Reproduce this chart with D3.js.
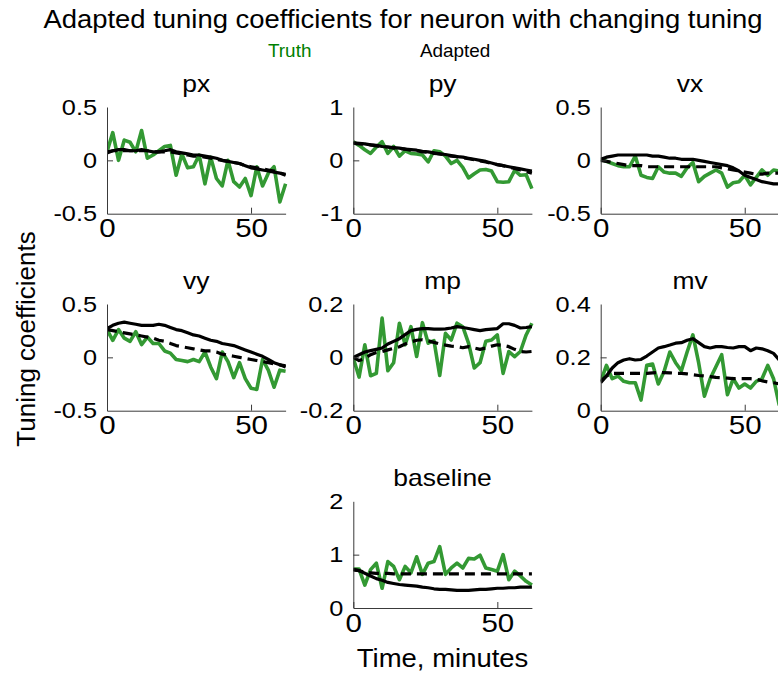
<!DOCTYPE html>
<html>
<head>
<meta charset="utf-8">
<script src="https://cdn.jsdelivr.net/npm/d3@7/dist/d3.min.js"></script>
<style>
  html, body { margin: 0; padding: 0; background: #fff; }
  svg { display: block; font-family: "Liberation Sans", Arial, Helvetica, sans-serif; }
</style>
</head>
<body>
<svg id="chart" width="778" height="674"></svg>
<script>
// Sample times (minutes)
const time = [0, 2, 4, 6, 8, 10, 12, 14, 16, 18, 20, 22, 24, 26, 28, 30,
              32, 34, 36, 38, 40, 42, 44, 46, 48, 50, 52, 54, 56, 58, 60, 62];

const xTicks = [0, 50];

// px
const pxTruth = [0.08, 0.26, 0.0, 0.19, 0.17, 0.08, 0.28, 0.02, 0.05, 0.09, 0.13, 0.14, -0.14, 0.06, -0.07, -0.06,
                 0.05, -0.22, 0.03, -0.17, -0.24, 0.0, -0.2, -0.25, -0.17, -0.33, -0.06, -0.24, -0.12, -0.06, -0.39, -0.22];
const pxAdapted = [0.07, 0.09, 0.1, 0.1, 0.09, 0.09, 0.1, 0.09, 0.08, 0.08, 0.09, 0.1, 0.08, 0.07, 0.06, 0.05,
                   0.05, 0.04, 0.03, 0.02, 0.0, -0.01, -0.02, -0.03, -0.05, -0.07, -0.08, -0.09, -0.1, -0.11, -0.12, -0.13];
const pxAdaptedAlt = [0.08, 0.09, 0.09, 0.09, 0.09, 0.09, 0.09, 0.09, 0.08, 0.08, 0.08, 0.08, 0.07, 0.06, 0.05, 0.04,
                      0.04, 0.03, 0.02, 0.01, 0.0, -0.01, -0.02, -0.03, -0.05, -0.06, -0.07, -0.08, -0.09, -0.1, -0.12, -0.14];
const pxTicks = [-0.5, 0, 0.5];

// py
const pyTruth = [0.35, 0.28, 0.2, 0.13, 0.25, 0.35, 0.13, 0.26, 0.08, 0.18, 0.13, 0.12, 0.1, -0.03, 0.18, 0.16,
                 0.08, -0.06, 0.0, -0.13, -0.33, -0.25, -0.18, -0.17, -0.2, -0.4, -0.41, -0.4, -0.19, -0.28, -0.27, -0.53];
const pyAdapted = [0.33, 0.32, 0.31, 0.29, 0.28, 0.26, 0.25, 0.24, 0.23, 0.21, 0.2, 0.19, 0.17, 0.16, 0.14, 0.12,
                   0.11, 0.09, 0.07, 0.06, 0.04, 0.02, 0.0, -0.02, -0.05, -0.08, -0.1, -0.12, -0.14, -0.16, -0.18, -0.2];
const pyAdaptedAlt = [0.32, 0.31, 0.3, 0.29, 0.27, 0.26, 0.25, 0.23, 0.22, 0.21, 0.19, 0.18, 0.16, 0.15, 0.13, 0.12,
                      0.1, 0.08, 0.07, 0.05, 0.03, 0.01, -0.01, -0.03, -0.06, -0.08, -0.1, -0.13, -0.15, -0.18, -0.21, -0.24];
const pyTicks = [-1, 0, 1];

// vx
const vxTruth = [0.01, -0.01, -0.03, -0.05, -0.06, -0.06, 0.04, -0.14, -0.16, -0.17, -0.06, -0.11, -0.12, -0.12, -0.15, -0.07,
                 -0.02, -0.2, -0.15, -0.12, -0.09, -0.12, -0.25, -0.21, -0.2, -0.14, -0.23, -0.16, -0.09, -0.14, -0.09, -0.1];
const vxAdapted = [0.01, 0.03, 0.04, 0.05, 0.05, 0.05, 0.05, 0.05, 0.05, 0.04, 0.04, 0.03, 0.02, 0.02, 0.01, 0.01,
                   0.01, 0.0, -0.01, -0.02, -0.03, -0.04, -0.05, -0.07, -0.1, -0.14, -0.16, -0.18, -0.2, -0.21, -0.22, -0.22];
const vxAdaptedAlt = [0.0, -0.01, -0.02, -0.03, -0.04, -0.05, -0.05, -0.05, -0.06, -0.06, -0.06, -0.06, -0.06, -0.06, -0.06, -0.06,
                      -0.06, -0.06, -0.06, -0.06, -0.06, -0.07, -0.08, -0.09, -0.1, -0.11, -0.12, -0.13, -0.13, -0.12, -0.12, -0.12];
const vxTicks = [-0.5, 0, 0.5];

// vy
const vyTruth = [0.26, 0.16, 0.26, 0.18, 0.15, 0.24, 0.12, 0.19, 0.13, 0.13, 0.06, 0.04, -0.02, -0.03, -0.04, -0.02,
                 -0.04, 0.05, -0.09, -0.2, 0.05, -0.04, -0.19, -0.05, -0.2, -0.29, -0.3, -0.02, -0.12, -0.28, -0.12, -0.13];
const vyAdapted = [0.27, 0.3, 0.32, 0.33, 0.32, 0.31, 0.3, 0.3, 0.3, 0.31, 0.3, 0.28, 0.26, 0.25, 0.23, 0.21,
                   0.2, 0.18, 0.16, 0.15, 0.13, 0.12, 0.11, 0.09, 0.07, 0.05, 0.03, 0.01, -0.02, -0.05, -0.07, -0.09];
const vyAdaptedAlt = [0.26, 0.25, 0.24, 0.23, 0.22, 0.21, 0.2, 0.19, 0.18, 0.16, 0.15, 0.13, 0.11, 0.1, 0.09, 0.08,
                      0.07, 0.06, 0.06, 0.05, 0.03, 0.02, 0.01, 0.0, -0.01, -0.02, -0.03, -0.04, -0.05, -0.06, -0.07, -0.08];
const vyTicks = [-0.5, 0, 0.5];

// mp
const mpTruth = [-0.003, -0.074, 0.047, -0.069, -0.06, 0.147, -0.05, -0.02, 0.128, 0.047, 0.115, 0.003, 0.13, 0.053, 0.063, -0.068,
                 0.09, 0.065, 0.128, 0.115, 0.053, -0.04, -0.02, 0.06, 0.065, 0.084, -0.06, 0.022, 0.003, 0.022, 0.084, 0.128];
const mpAdapted = [0.0, 0.01, 0.02, 0.025, 0.03, 0.035, 0.05, 0.06, 0.07, 0.085, 0.1, 0.105, 0.108, 0.108, 0.106, 0.106,
                   0.107, 0.11, 0.115, 0.112, 0.108, 0.104, 0.1, 0.104, 0.106, 0.108, 0.126, 0.126, 0.12, 0.11, 0.112, 0.115];
const mpAdaptedAlt = [0.0, -0.012, -0.005, 0.01, 0.018, 0.022, 0.028, 0.034, 0.04, 0.05, 0.058, 0.064, 0.066, 0.062, 0.056, 0.05,
                      0.046, 0.042, 0.04, 0.036, 0.04, 0.035, 0.03, 0.035, 0.042, 0.047, 0.045, 0.04, 0.03, 0.022, 0.02, 0.022];
const mpTicks = [-0.2, 0, 0.2];

// mv
const mvTruth = [0.11, 0.17, 0.12, 0.13, 0.11, 0.105, 0.105, 0.04, 0.17, 0.175, 0.1, 0.147, 0.22, 0.18, 0.15, 0.22,
                 0.284, 0.18, 0.054, 0.12, 0.165, 0.21, 0.06, 0.12, 0.085, 0.1, 0.085, 0.11, 0.12, 0.17, 0.12, 0.02];
const mvAdapted = [0.105, 0.13, 0.16, 0.18, 0.19, 0.195, 0.19, 0.192, 0.205, 0.22, 0.235, 0.24, 0.246, 0.253, 0.255, 0.264,
                   0.27, 0.255, 0.24, 0.235, 0.24, 0.24, 0.237, 0.235, 0.24, 0.24, 0.225, 0.235, 0.232, 0.225, 0.215, 0.19];
const mvAdaptedAlt = [0.11, 0.13, 0.14, 0.14, 0.14, 0.14, 0.14, 0.14, 0.14, 0.142, 0.143, 0.143, 0.142, 0.14, 0.14, 0.138,
                      0.135, 0.132, 0.13, 0.128, 0.125, 0.124, 0.122, 0.12, 0.12, 0.12, 0.12, 0.118, 0.112, 0.108, 0.105, 0.1];
const mvTicks = [0, 0.2, 0.4];

// baseline
const baseTruth = [0.73, 0.73, 0.43, 0.72, 0.84, 0.37, 0.87, 0.78, 0.53, 0.78, 0.66, 0.96, 0.63, 0.84, 0.87, 1.15,
                   0.63, 0.75, 0.84, 0.75, 0.93, 0.92, 0.99, 0.75, 0.72, 0.69, 1.0, 0.53, 0.69, 0.6, 0.5, 0.43];
const baseAdapted = [0.72, 0.7, 0.65, 0.6, 0.55, 0.52, 0.48, 0.46, 0.44, 0.43, 0.42, 0.41, 0.39, 0.38, 0.36, 0.35,
                     0.35, 0.34, 0.33, 0.33, 0.33, 0.34, 0.35, 0.35, 0.36, 0.37, 0.37, 0.38, 0.38, 0.39, 0.39, 0.39];
const baseAdaptedAlt = [0.72, 0.7, 0.67, 0.66, 0.65, 0.65, 0.65, 0.64, 0.64, 0.64, 0.64, 0.64, 0.64, 0.64, 0.64, 0.64,
                        0.64, 0.64, 0.64, 0.64, 0.64, 0.64, 0.64, 0.64, 0.64, 0.64, 0.64, 0.64, 0.64, 0.64, 0.64, 0.64];
const baseTicks = [0, 1, 2];

const panels = [
  { name: "px",       row: 0, col: 0, ticks: pxTicks,   truth: pxTruth,   adapted: pxAdapted,   alt: pxAdaptedAlt },
  { name: "py",       row: 0, col: 1, ticks: pyTicks,   truth: pyTruth,   adapted: pyAdapted,   alt: pyAdaptedAlt },
  { name: "vx",       row: 0, col: 2, ticks: vxTicks,   truth: vxTruth,   adapted: vxAdapted,   alt: vxAdaptedAlt },
  { name: "vy",       row: 1, col: 0, ticks: vyTicks,   truth: vyTruth,   adapted: vyAdapted,   alt: vyAdaptedAlt },
  { name: "mp",       row: 1, col: 1, ticks: mpTicks,   truth: mpTruth,   adapted: mpAdapted,   alt: mpAdaptedAlt },
  { name: "mv",       row: 1, col: 2, ticks: mvTicks,   truth: mvTruth,   adapted: mvAdapted,   alt: mvAdaptedAlt },
  { name: "baseline", row: 2, col: 1, ticks: baseTicks, truth: baseTruth, adapted: baseAdapted, alt: baseAdaptedAlt }
];

// Layout
const colX = [107, 353.3, 600.7];
const rowY = [107, 304, 501.3];
const plotW = 178.6, plotH = 106.7;
const truthColor = "#339933";
const axisColor = "#3a3a3a";

// Widen a text element horizontally about its own anchor point.
function widen(sel, sx) {
  sel.each(function () {
    const t = d3.select(this);
    const ax = +t.attr("x") || 0;
    const ay = +t.attr("y") || 0;
    t.attr("transform", `translate(${ax},${ay}) scale(${sx},1) translate(${-ax},${-ay})`);
  });
}

const svg = d3.select("#chart");

svg.append("text")
  .attr("x", 403).attr("y", 28)
  .attr("text-anchor", "middle")
  .attr("font-size", 26)
  .attr("fill", "#000")
  .text("Adapted tuning coefficients for neuron with changing tuning")
  .call(widen, 1.055);

svg.append("text")
  .attr("x", 268).attr("y", 57)
  .attr("font-size", 17.5)
  .attr("fill", "#008000")
  .text("Truth")
  .call(widen, 1.08);
svg.append("text")
  .attr("x", 420).attr("y", 57)
  .attr("font-size", 17.5)
  .attr("fill", "#000")
  .text("Adapted")
  .call(widen, 1.08);

svg.append("text")
  .attr("transform", "translate(35,339) rotate(-90)")
  .attr("text-anchor", "middle")
  .attr("font-size", 26)
  .attr("fill", "#000")
  .text("Tuning coefficients");

panels.forEach(p => {
  const x0 = colX[p.col], y0 = rowY[p.row];
  const g = svg.append("g").attr("transform", `translate(${x0},${y0})`);

  const x = d3.scaleLinear().domain([0, 62]).range([0, plotW]);
  const yDom = d3.extent(p.ticks);
  const y = d3.scaleLinear().domain(yDom).range([plotH, 0]);

  const clipId = "clip-" + p.name;
  g.append("clipPath").attr("id", clipId)
    .append("rect").attr("x", 0).attr("y", -2).attr("width", plotW + 2).attr("height", plotH + 4);

  const line = vals => d3.line()
    .x((d, i) => x(time[i]))
    .y(d => y(d))(vals);

  const lines = g.append("g").attr("clip-path", `url(#${clipId})`)
    .attr("fill", "none").attr("stroke-linejoin", "round");

  lines.append("path").attr("d", line(p.truth))
    .attr("stroke", truthColor).attr("stroke-width", 3.6);
  lines.append("path").attr("d", line(p.adapted))
    .attr("stroke", "#000").attr("stroke-width", 3.2);
  lines.append("path").attr("d", line(p.alt))
    .attr("stroke", "#000").attr("stroke-width", 3.2)
    .attr("stroke-dasharray", "10,6");

  // y axis
  const ya = g.append("g").call(
    d3.axisLeft(y).tickValues(p.ticks).tickFormat(d => String(d))
      .tickSizeInner(-6).tickSizeOuter(0).tickPadding(10)
  );
  ya.select(".domain").attr("stroke", axisColor);
  ya.selectAll(".tick line").attr("stroke", axisColor)
    .filter(d => d === yDom[0] || d === yDom[1]).remove();
  ya.selectAll(".tick text")
    .attr("font-size", 22).attr("fill", "#000")
    .attr("font-family", "Liberation Sans, Arial, sans-serif")
    .call(widen, 1.15);

  // x axis
  const xa = g.append("g").attr("transform", `translate(0,${plotH})`).call(
    d3.axisBottom(x).tickValues(xTicks).tickFormat(d => String(d))
      .tickSizeInner(-6).tickSizeOuter(0).tickPadding(6)
  );
  xa.select(".domain").attr("stroke", axisColor);
  xa.selectAll(".tick line").attr("stroke", axisColor);
  xa.selectAll(".tick text")
    .attr("font-size", 25).attr("fill", "#000")
    .attr("font-family", "Liberation Sans, Arial, sans-serif")
    .call(widen, 1.18);

  g.append("text")
    .attr("x", plotW / 2).attr("y", -15)
    .attr("text-anchor", "middle")
    .attr("font-size", 23)
    .attr("fill", "#000")
    .text(p.name)
    .call(widen, 1.15);

  if (p.name === "baseline") {
    g.append("text")
      .attr("x", plotW / 2).attr("y", plotH + 59)
      .attr("text-anchor", "middle")
      .attr("font-size", 25)
      .attr("fill", "#000")
      .text("Time, minutes")
      .call(widen, 1.1);
  }
});
</script>
</body>
</html>
